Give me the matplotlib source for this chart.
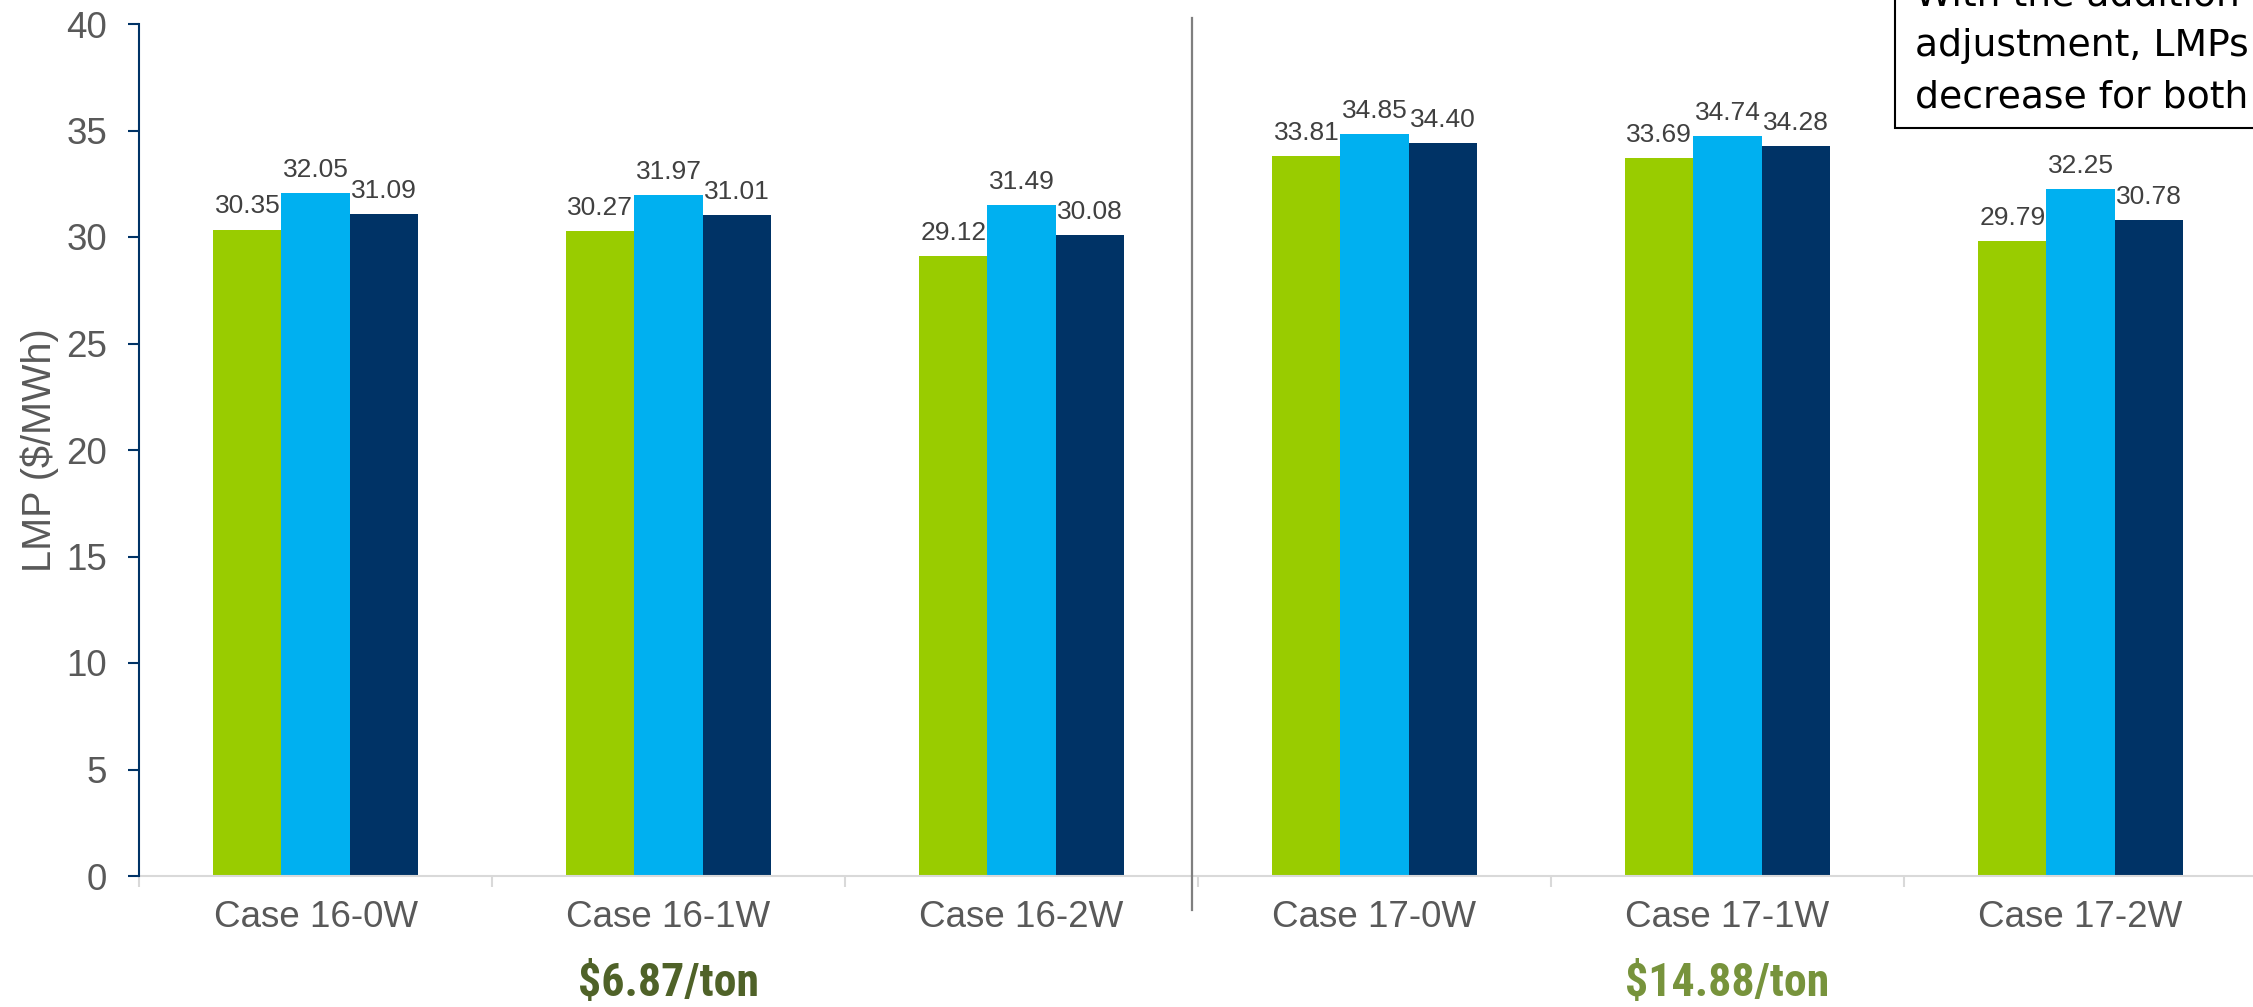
import matplotlib
matplotlib.use("Agg")
import matplotlib.pyplot as plt
from matplotlib import font_manager
import numpy as np
from matplotlib.patches import Rectangle

plt.rcParams['font.family'] = ['Liberation Sans', 'DejaVu Sans']

categories = ["Case 16-0W", "Case 16-1W", "Case 16-2W", "Case 17-0W", "Case 17-1W", "Case 17-2W"]
series_a = [30.35, 30.27, 29.12, 33.81, 33.69, 29.79]
series_b = [32.05, 31.97, 31.49, 34.85, 34.74, 32.25]
series_c = [31.09, 31.01, 30.08, 34.40, 34.28, 30.78]
colors = ["#99CC00", "#00B0F0", "#003366"]
yticks = [0, 5, 10, 15, 20, 25, 30, 35, 40]
price_labels = ["$6.87/ton", "$14.88/ton"]
price_colors = ["#4F6228", "#77933C"]
box_lines = ["With the addition of", "adjustment, LMPs", "decrease for both"]

available = {f.name for f in font_manager.fontManager.ttflist}
narrow_font, narrow_size = 'Liberation Sans', 29.5
for cand in ['Liberation Sans Narrow', 'Arial Narrow', 'Roboto Condensed', 'DejaVu Sans Condensed']:
    if cand in available:
        narrow_font, narrow_size = cand, 33
        break

W, H = 2253, 1007
fig = plt.figure(figsize=(W / 100, H / 100), dpi=100)
ax_left, ax_right, ax_top, ax_bottom = 139, 2257, 24, 876
ax = fig.add_axes([ax_left / W, 1 - ax_bottom / H, (ax_right - ax_left) / W, (ax_bottom - ax_top) / H])

x = np.arange(len(categories))
bw = 0.193
for i, (vals, c) in enumerate(zip([series_a, series_b, series_c], colors)):
    bars = ax.bar(x + (i - 1) * bw, vals, width=bw, color=c, edgecolor='none', zorder=2)
    ax.bar_label(bars, labels=[f"{v:.2f}" for v in vals], padding=8.0, fontsize=19, color="#404040")

ax.set_xlim(-0.5, len(categories) - 0.5)
ax.set_ylim(0, 40)
ax.set_yticks(yticks)
ax.set_yticklabels([str(t) for t in yticks], fontsize=26.5, color="#595959")
ax.set_xticks(x)
ax.set_xticklabels(categories, fontsize=26.5, color="#595959")
ax.set_xticks(np.arange(len(categories) + 1) - 0.5, minor=True)
ax.tick_params(axis='x', which='major', length=0, pad=17)
ax.tick_params(axis='x', which='minor', length=8, width=1.5, color="#D9D9D9")
ax.tick_params(axis='y', which='major', length=8, width=1.5, color="#003366", pad=15)

for s in ['top', 'right']:
    ax.spines[s].set_visible(False)
ax.spines['left'].set_color("#003366")
ax.spines['left'].set_linewidth(1.5)
ax.spines['bottom'].set_color("#D9D9D9")
ax.spines['bottom'].set_linewidth(1.5)
ax.spines['left'].set_zorder(3)

ax.set_ylabel("LMP ($/MWh)", fontsize=28.5, color="#595959", labelpad=0)
ax.yaxis.set_label_coords(-0.038, 0.5)

# separator line between case groups
ax.plot([2.483, 2.483], [40.28, -1.6], color="#7F7F7F", lw=1.6, clip_on=False, zorder=4)

# carbon price labels under middle categories
for xi, lab, col in zip([1, 4], price_labels, price_colors):
    xf = (ax_left + (xi + 0.5) * (ax_right - ax_left) / len(categories)) / W
    fig.text(xf, 1 - 996 / H, lab, fontsize=narrow_size, fontweight='bold', color=col,
             ha='center', va='baseline', family=[narrow_font, 'Liberation Sans'])

# annotation box at top right (cut off by figure edge)
fig.patches.append(Rectangle((1895 / W, 1 - 128 / H), 0.2, 0.2, transform=fig.transFigure,
                             facecolor='white', edgecolor='black', lw=1.5, zorder=5))
for yb, line in zip([6, 56, 107], box_lines):
    fig.text(1915 / W, 1 - yb / H, line, fontsize=27.2, color='black', ha='left', va='baseline',
             zorder=6, family=['DejaVu Sans'])

fig.savefig("out.png", dpi=100)
